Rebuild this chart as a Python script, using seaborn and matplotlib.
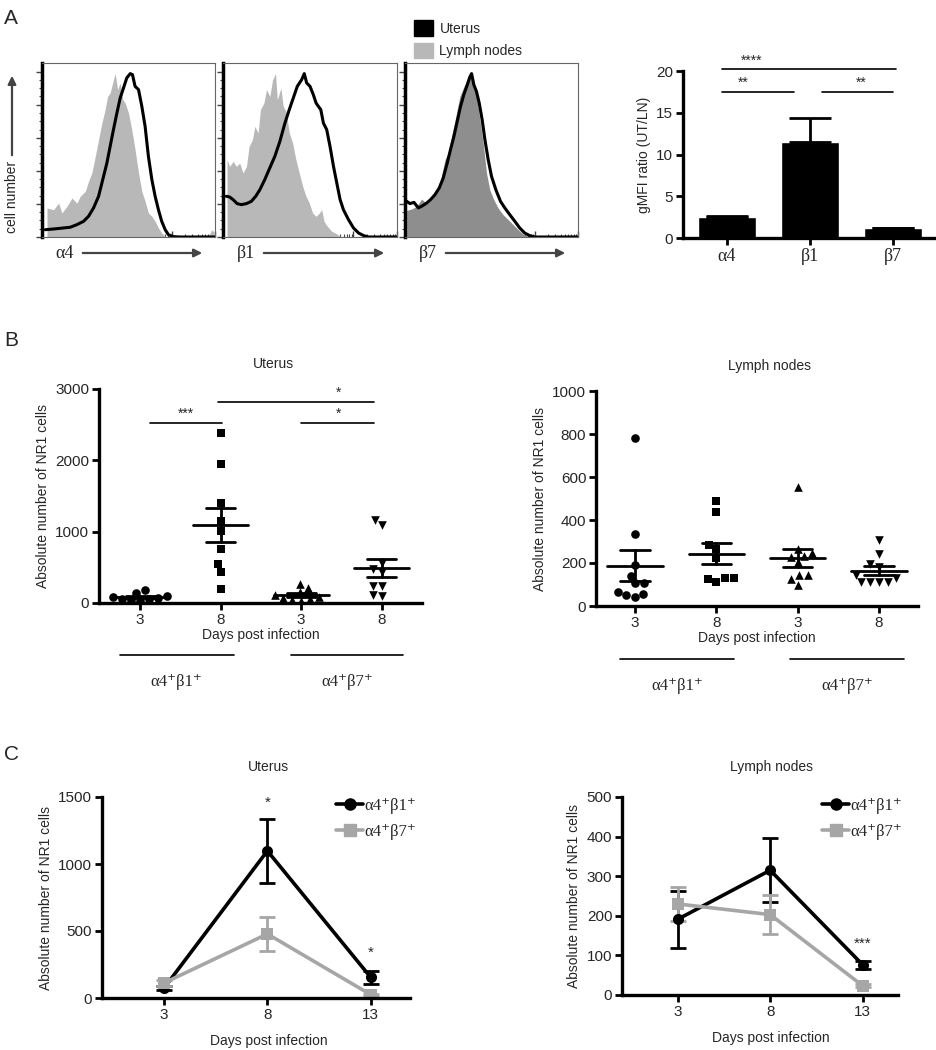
import warnings
import numpy as np
import pandas as pd
import matplotlib
matplotlib.use("Agg")
import matplotlib.pyplot as plt
import matplotlib.transforms as mtransforms
from matplotlib.patches import Patch, FancyArrowPatch
from matplotlib.lines import Line2D
import seaborn as sns

warnings.filterwarnings("ignore")

# === PANEL A: flow histograms (x = channel %, y = % of panel height) ===
a4_ln_x = [2.9, 6.7, 9.6, 11.5, 14.4, 17.3, 20.2, 22.1, 25, 26.9, 28.8, 30.8, 32.7, 34.6, 36.5, 37.9,
           39.4, 41.3, 42.3, 43.7, 45.2, 46.7, 48.1, 50, 51.9, 53.8, 55.8, 57.7, 59.6, 61.5, 63.5,
           65.4, 67.3, 69.2, 71.2, 73.1, 96, 98, 99.5]
a4_ln_y = [16.7, 15.7, 19.5, 13.8, 17.6, 22.4, 19.5, 23.4, 26.2, 32, 36.8, 46.4, 56, 65.5, 73.2, 80.8,
           82.8, 90.4, 93.9, 84.7, 88.5, 78.9, 77, 71.3, 61.7, 50.2, 36.8, 26.2, 20.5, 13.8, 11.9,
           9, 5.2, 2.3, 0.4, 0, 0, 4, 3]
a4_ut_x = [1.9, 6.7, 12.5, 16.3, 20.2, 24, 26.9, 29.8, 32.7, 35.6, 37.5, 39.4, 41.3, 43.3, 45.2, 47.1,
           49, 51, 52.3, 53.8, 55.8, 57.7, 59.6, 61.5, 63.5, 65.4, 67.3, 69.2, 71.2, 73.1, 76, 79.8, 100]
a4_ut_y = [4.2, 4.6, 5.2, 5.6, 7.1, 9, 11.9, 16.7, 23.4, 34.9, 42.5, 52.1, 61.7, 71.3, 79.9, 85.6,
           91.4, 93.9, 93.3, 86.6, 84.7, 75.1, 63.6, 46.4, 33, 23.4, 15.7, 9, 4.2, 1.3, 0.2, 0, 0]

b1_ln_x = [2.3, 3.8, 5.8, 7.7, 9.6, 11.5, 13.5, 15, 16.9, 18.3, 20.2, 21.5, 23.5, 25, 26.9, 28.5, 30.2,
           31.2, 33.3, 34.6, 36.2, 38.1, 40, 41.9, 43.8, 45.8, 47.7, 49.6, 51.5, 53.5, 55.4, 56.7, 58.1,
           60, 62.5, 64.4, 67.3, 69.2]
b1_ln_y = [44.4, 40.6, 43.5, 40.6, 42.5, 36.8, 40.6, 52.1, 55.9, 63.6, 59.8, 73.2, 77, 84.7, 80.8, 90.4,
           93.9, 78.9, 85.6, 75.1, 72.2, 59.8, 54, 44.4, 36.8, 29.1, 23.4, 19.5, 13.8, 11.9, 13.8, 15.7,
           9, 6.1, 3.3, 2.3, 0.4, 0]
b1_ut_x = [1.9, 3.8, 5.8, 8.1, 10.6, 13.5, 16.3, 18.8, 21.2, 24, 26.9, 29.8, 32.7, 35.6, 38.1, 40.4,
           42.7, 45.2, 46.7, 48.1, 50, 51.9, 53.5, 54.8, 56.2, 57.7, 59.6, 61.5, 63.5, 65.4, 67.3, 69.2,
           72.1, 75, 77.9, 80.8, 83.7, 100]
b1_ut_y = [23.4, 23, 21.5, 19.2, 18.6, 19.2, 20.5, 23.4, 27.2, 33, 39.7, 46.4, 55, 65.5, 73.2, 79.9,
           86.6, 90.4, 93.9, 88.5, 86.6, 81.8, 77, 75.1, 73.2, 65.5, 61.7, 52.1, 40.6, 31, 21.5, 15.7,
           10, 5.2, 2.3, 0.8, 0, 0]

b7_ln_x = [1, 3.8, 6.7, 9.6, 12.5, 15.4, 18.3, 20.6, 23.1, 25, 26.9, 29.4, 31.7, 33.7, 36, 37.5, 38.8,
           40.4, 41.7, 43.3, 45.2, 47.1, 49, 51.3, 53.8, 56.7, 59.6, 62.5, 65.4, 68.3, 71.2, 73.1]
b7_ln_y = [15.3, 16.1, 17.6, 21.8, 19.2, 21.8, 25.3, 33, 44.4, 48.3, 57.9, 69.3, 80.8, 85.6, 90.4, 92.7,
           93.3, 86.6, 78.9, 67.4, 54, 36.8, 27.2, 21.5, 16.7, 12.8, 10, 7.1, 4.2, 1.7, 0.4, 0]
b7_ut_x = [1, 2.9, 5.2, 7.7, 10.2, 12.5, 14.8, 17.3, 19.8, 22.1, 24.4, 26.3, 28.3, 30.2, 32.1, 34, 36,
           37.5, 38.5, 39.8, 41.3, 42.9, 44.6, 46.2, 48.1, 50, 52.5, 55.2, 57.7, 60.6, 63.5, 66.3, 69.2,
           72.1, 75, 100]
b7_ut_y = [20.5, 19.2, 19.9, 16.7, 18, 19.5, 21.5, 24.3, 28.2, 33.9, 42.5, 50.2, 57.9, 66.5, 75.1, 81.8,
           87.5, 92, 93.9, 87.5, 83.7, 77, 67.4, 55.9, 44.4, 34.9, 27.2, 20.5, 16.7, 12.8, 9, 5.2, 2.3,
           0.8, 0, 0]

hist_labels = ["\u03b14", "\u03b21", "\u03b27"]

# === PANEL A: gMFI ratio ===
mfi_labels = ["\u03b14", "\u03b21", "\u03b27"]
mfi_ratio = [2.5, 11.5, 1.2]
mfi_sem = [0.12, 2.9, 0.05]

# === PANEL B: absolute NR1 cell numbers per mouse ===
day_labels = ["3", "8", "3", "8"]
groups = ["a4b1_d3", "a4b1_d8", "a4b7_d3", "a4b7_d8"]
ut_a4b1_d3 = [178, 140, 95, 85, 70, 60, 50, 40, 30]
ut_a4b1_d8 = [2387, 1947, 1395, 1151, 1006, 753, 552, 435, 201]
ut_a4b7_d3 = [271, 211, 150, 110, 90, 70, 50, 40, 30]
ut_a4b7_d8 = [1170, 1090, 566, 482, 435, 234, 234, 108, 94]
ln_a4b1_d3 = [780, 335, 191, 141, 105, 105, 67, 56, 50, 40]
ln_a4b1_d8 = [490, 439, 284, 264, 222, 129, 129, 124, 113]
ln_a4b7_d3 = [555, 264, 248, 233, 230, 203, 144, 144, 124, 98]
ln_a4b7_d8 = [307, 240, 194, 180, 146, 130, 113, 113, 113, 113]

# === PANEL C: kinetics (mean +/- SEM) ===
days = [3, 8, 13]
c_ut_b1 = [74, 1098, 154]
c_ut_b1_sem = [15, 240, 48]
c_ut_b7 = [112, 478, 25]
c_ut_b7_sem = [25, 130, 8]
c_ln_b1 = [191, 315, 76]
c_ln_b1_sem = [72, 81, 11]
c_ln_b7 = [230, 203, 23]
c_ln_b7_sem = [43, 50, 4]
subset_labels = ["\u03b14\u207a\u03b21\u207a", "\u03b14\u207a\u03b27\u207a"]

# === STYLE ===
sns.set_theme(style="ticks")
plt.rcParams["font.family"] = ["Liberation Sans", "DejaVu Sans"]
SERIF = ["Liberation Serif", "DejaVu Serif"]
LIGHT = "#b8b8b8"
GRAY = "#a6a6a6"

W, H = 937, 1050
fig = plt.figure(figsize=(W / 100, H / 100), dpi=100)


def px_axes(l, t, r, b):
    return fig.add_axes([l / W, 1 - b / H, (r - l) / W, (b - t) / H])


def fx(x):
    return x / W


def fy(y):
    return 1 - y / H


def prism_axes(ax):
    sns.despine(ax=ax)
    for s in ["left", "bottom"]:
        ax.spines[s].set_linewidth(2.4)
        ax.spines[s].set_color("black")
    ax.tick_params(width=2, length=5, labelsize=11, color="black", pad=2)


# --- A: histograms ---
hist_sets = [
    (42, 215, a4_ln_x, a4_ln_y, a4_ut_x, a4_ut_y, LIGHT),
    (223, 397, b1_ln_x, b1_ln_y, b1_ut_x, b1_ut_y, LIGHT),
    (405, 578, b7_ln_x, b7_ln_y, b7_ut_x, b7_ut_y, "#8e8e8e"),
]
decades = np.arange(0, 101, 25)
minor_x = np.concatenate([d + 25 * np.log10(np.arange(2, 10)) for d in decades[:-1]])
for i, (l, r, lx, ly, ux, uy, fill) in enumerate(hist_sets):
    ax = px_axes(l, 63, r, 237)
    ax.fill_between(lx, ly, 0, color=fill, lw=0)
    sns.lineplot(x=ux, y=uy, color="black", lw=2.2, ax=ax, sort=False)
    ax.set_xlim(0, 100)
    ax.set_ylim(0, 100)
    for s in ["top", "right", "bottom"]:
        ax.spines[s].set_linewidth(0.8)
        ax.spines[s].set_color("#666666")
    ax.spines["left"].set_linewidth(2.5)
    ax.spines["left"].set_color("black")
    ax.set_yticks(np.arange(6) * 19)
    ax.set_yticks(np.arange(0, 96, 4.75), minor=True)
    ax.set_xticks(decades)
    ax.set_xticks(minor_x, minor=True)
    ax.tick_params(axis="y", which="major", length=4, width=1, color="#444")
    ax.tick_params(axis="y", which="minor", length=2, width=0.8, color="#444")
    ax.tick_params(axis="x", which="major", direction="in", length=4, width=1, color="#444")
    ax.tick_params(axis="x", which="minor", direction="in", length=2.5, width=0.8, color="#444")
    ax.set_xticklabels([])
    ax.set_yticklabels([])
    ax.set_xlabel("")
    ax.set_ylabel("")
    # axis label with arrow
    fig.text(fx(l + 23), fy(253), hist_labels[i], fontsize=13, family=SERIF, ha="center", va="center")
    fig.add_artist(FancyArrowPatch(
        (fx(l + 38), fy(253)), (fx(r - 10), fy(253)), transform=fig.transFigure,
        arrowstyle="-|>", mutation_scale=12, color="#444444", lw=1.6))

fig.text(fx(12), fy(197), "cell number", rotation=90, fontsize=10, ha="center", va="center")
fig.add_artist(FancyArrowPatch(
    (fx(12), fy(158)), (fx(12), fy(73)), transform=fig.transFigure,
    arrowstyle="-|>", mutation_scale=12, color="#444444", lw=1.6))

fig.legend(handles=[Patch(color="black", label="Uterus"), Patch(color=LIGHT, label="Lymph nodes")],
           loc="upper left", bbox_to_anchor=(fx(402), fy(8)), frameon=False, fontsize=10,
           handlelength=1.3, handleheight=1.3, handletextpad=0.5, labelspacing=0.5)

# --- A: gMFI bar chart ---
ax = px_axes(683, 71, 937, 238)
sns.barplot(x=mfi_labels, y=mfi_ratio, color="black", saturation=1, width=0.7, errorbar=None, ax=ax)
ax.errorbar(range(3), mfi_ratio, yerr=[np.zeros(3), mfi_sem], fmt="none", ecolor="black",
            elinewidth=2, capsize=15, capthick=2)
prism_axes(ax)
ax.set_xlim(-0.53, 2.53)
ax.set_ylim(0, 20)
ax.set_yticks([0, 5, 10, 15, 20])
ax.set_ylabel("gMFI ratio (UT/LN)", fontsize=10)
ax.set_xlabel("")
for t in ax.get_xticklabels():
    t.set_fontfamily(SERIF)
    t.set_fontsize(13)
for x0, x1, y, txt, tx in [(-0.06, 2.04, 20.2, "****", 0.3), (-0.06, 0.81, 17.5, "**", 0.2),
                           (1.14, 2.0, 17.5, "**", 1.62)]:
    ax.plot([x0, x1], [y, y], color="black", lw=1.2, clip_on=False)
    ax.text(tx, y + 0.2, txt, ha="center", va="bottom", fontsize=10)


# --- B: scatter dot plots ---
def dot_panel(l, t, r, b, data, ymax, yticks, title, xlim, brackets, group_lines):
    ax = px_axes(l, t, r, b)
    for g, vals, m in zip(groups, data, ["o", "s", "^", "v"]):
        sns.swarmplot(x=[g] * len(vals), y=vals, order=groups, marker=m, color="black",
                      size=6.2, ax=ax)
        i = groups.index(g)
        mean = np.mean(vals)
        sem = np.std(vals, ddof=1) / np.sqrt(len(vals))
        ax.plot([i - 0.34, i + 0.34], [mean, mean], color="black", lw=2)
        ax.plot([i - 0.18, i + 0.18], [mean + sem] * 2, color="black", lw=2)
        ax.plot([i - 0.18, i + 0.18], [mean - sem] * 2, color="black", lw=2)
        ax.plot([i, i], [mean - sem, mean + sem], color="black", lw=2)
    prism_axes(ax)
    ax.set_xlim(*xlim)
    ax.set_ylim(0, ymax)
    ax.set_yticks(yticks)
    ax.set_xticks(range(4))
    ax.set_xticklabels(day_labels)
    ax.set_xlabel("Days post infection", fontsize=10, labelpad=1)
    ax.set_ylabel("Absolute number of NR1 cells", fontsize=10)
    ax.set_title(title, fontsize=10, pad=15, x=0.54)
    for x0, x1, y, txt in brackets:
        ax.plot([x0, x1], [y, y], color="black", lw=1.2, clip_on=False)
        ax.text((x0 + x1) / 2 if txt != "*" else x1 - 0.45, y + ymax * 0.01, txt,
                ha="center", va="bottom", fontsize=10)
    trans = mtransforms.blended_transform_factory(ax.transData, ax.transAxes)
    for (x0, x1), lab in zip(group_lines, subset_labels):
        ax.plot([x0, x1], [-0.245, -0.245], color="black", lw=1.2, transform=trans, clip_on=False)
        ax.text((x0 + x1) / 2, -0.37, lab, transform=trans, ha="center", va="center",
                fontsize=12, family=SERIF)
    return ax


dot_panel(99, 389, 422, 603, [ut_a4b1_d3, ut_a4b1_d8, ut_a4b7_d3, ut_a4b7_d8], 3000,
          [0, 1000, 2000, 3000], "Uterus", (-0.51, 3.5),
          [(0.12, 1.02, 2518, "***"), (0.97, 2.91, 2822, "*"), (2.0, 2.91, 2518, "*")],
          [(-0.25, 1.16), (1.87, 3.27)])
dot_panel(596, 391, 918, 606, [ln_a4b1_d3, ln_a4b1_d8, ln_a4b7_d3, ln_a4b7_d8], 1000,
          [0, 200, 400, 600, 800, 1000], "Lymph nodes", (-0.48, 3.48), [],
          [(-0.18, 1.22), (1.91, 3.31)])


# --- C: kinetics ---
def kinetic_panel(l, t, r, b, b1, b1_sem, b7, b7_sem, ymax, yticks, title, stars):
    ax = px_axes(l, t, r, b)
    df = pd.DataFrame({"day": days * 2, "value": b1 + b7,
                       "subset": [subset_labels[0]] * 3 + [subset_labels[1]] * 3})
    for vals, sem, col in [(b1, b1_sem, "black"), (b7, b7_sem, GRAY)]:
        ax.errorbar(days, vals, yerr=sem, fmt="none", ecolor=col, elinewidth=2,
                    capsize=6, capthick=2)
    sns.lineplot(data=df, x="day", y="value", hue="subset", style="subset",
                 markers={subset_labels[0]: "o", subset_labels[1]: "s"}, dashes=False,
                 palette=["black", GRAY], lw=2.6, markersize=8, markeredgewidth=0,
                 legend=False, ax=ax)
    prism_axes(ax)
    ax.set_xlim(0, 14.9)
    ax.set_ylim(0, ymax)
    ax.set_yticks(yticks)
    ax.set_xticks(days)
    ax.set_xlabel("Days post infection", fontsize=10, labelpad=9, x=0.54)
    ax.set_ylabel("Absolute number of NR1 cells", fontsize=10)
    ax.set_title(title, fontsize=10, pad=19, x=0.54)
    for x, y, txt in stars:
        ax.text(x, y, txt, ha="center", va="center", fontsize=11)
    handles = [Line2D([0], [0], color="black", lw=2.6, marker="o", ms=8, label=subset_labels[0]),
               Line2D([0], [0], color=GRAY, lw=2.6, marker="s", ms=8, label=subset_labels[1])]
    ax.legend(handles=handles, loc="upper right", bbox_to_anchor=(1.07, 1.07), frameon=False,
              prop={"family": SERIF, "size": 12}, handlelength=1.6, handletextpad=0.1,
              labelspacing=0.6)
    return ax


kinetic_panel(102, 797, 410, 998, c_ut_b1, c_ut_b1_sem, c_ut_b7, c_ut_b7_sem, 1500,
              [0, 500, 1000, 1500], "Uterus", [(8, 1460, "*"), (13, 335, "*")])
kinetic_panel(622, 797, 898, 995, c_ln_b1, c_ln_b1_sem, c_ln_b7, c_ln_b7_sem, 500,
              [0, 100, 200, 300, 400, 500], "Lymph nodes", [(13, 130, "***")])

# --- panel letters ---
for letter, y in [("A", 18), ("B", 340), ("C", 755)]:
    fig.text(fx(4), fy(y), letter, fontsize=15, ha="left", va="center")

fig.savefig("out.png", dpi=100)
